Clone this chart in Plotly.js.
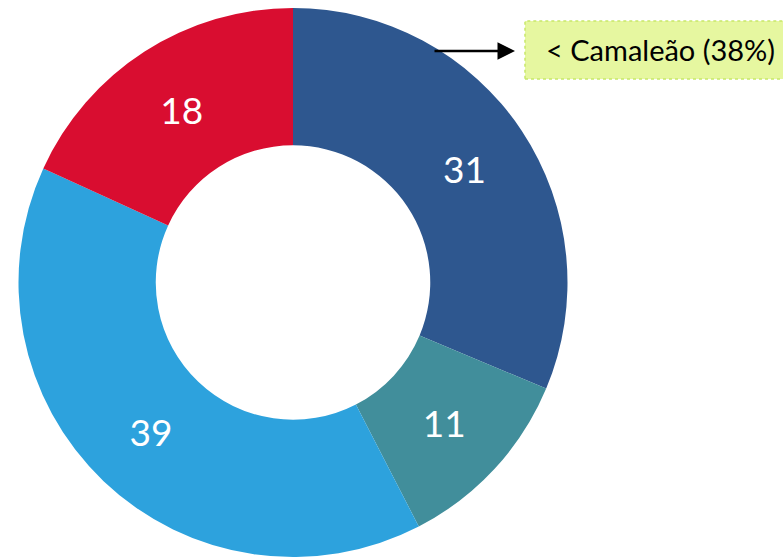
<!DOCTYPE html>
<html>
<head>
<meta charset="utf-8">
<script src="https://cdn.plot.ly/plotly-3.0.1.min.js"></script>
<style>html,body{margin:0;padding:0;background:#fff}#chart{width:783px;height:558px}</style>
</head>
<body>
<div id="chart"></div>
<script>
var categories = ["A", "B", "C", "D"];
var values = [31, 11, 39, 18];
var colors = ["#2E578F", "#418E9B", "#2DA2DD", "#D90D30"];
var calloutText = "< Camaleão (38%)";

var trace = {
  type: "pie",
  labels: categories,
  values: values,
  hole: 0.5,
  sort: false,
  direction: "clockwise",
  rotation: 0,
  marker: {colors: colors, line: {width: 0}},
  textinfo: "value",
  textposition: "inside",
  insidetextorientation: "horizontal",
  textfont: {family: "Lato, 'Open Sans', sans-serif", size: 37, color: "#ffffff"},
  domain: {x: [18/783, 568/783], y: [1/558, 550/558]},
  showlegend: false,
  hoverinfo: "none"
};

var layout = {
  width: 783, height: 558,
  margin: {l: 0, r: 0, t: 0, b: 0},
  paper_bgcolor: "#ffffff",
  showlegend: false,
  shapes: [{
    type: "rect", xref: "paper", yref: "paper",
    x0: 525/783, x1: 1.02, y0: (558-79)/558, y1: (558-21)/558,
    fillcolor: "#E6F7A0", line: {color: "#C8E86A", width: 1.5, dash: "dot"}, layer: "below"
  }],
  annotations: [
    {xref: "paper", yref: "paper", x: 544/783, y: (558-50)/558, xanchor: "left", yanchor: "middle",
     text: calloutText, showarrow: false,
     font: {family: "Lato, 'Open Sans', sans-serif", size: 29, color: "#000000"}},
    {xref: "paper", yref: "paper", x: 515/783, y: (558-51)/558, text: "", showarrow: true,
     ax: -82, ay: 0, arrowhead: 2, arrowsize: 1.4, arrowwidth: 2.5, arrowcolor: "#000000"}
  ]
};

Plotly.newPlot("chart", [trace], layout, {displayModeBar: false, staticPlot: true});
</script>
</body>
</html>
